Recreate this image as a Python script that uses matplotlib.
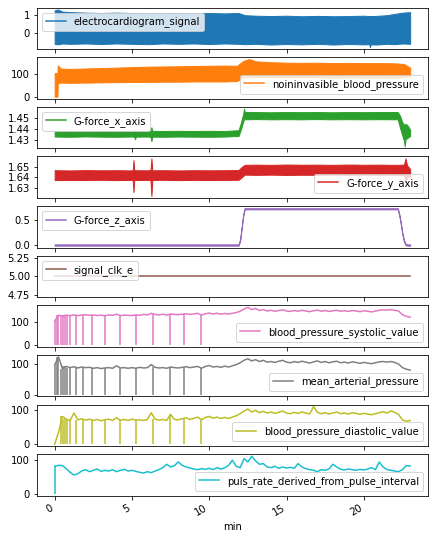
import numpy as np
import matplotlib
matplotlib.use("Agg")
import matplotlib.pyplot as plt

# time axis in minutes; band series are given as lower / upper envelope
ecg_t = [0.0, 0.2, 0.5, 1, 2, 3, 4, 5, 6, 7, 8, 9, 10, 11, 11.9, 12.3, 13, 14, 15, 16,
         17, 18, 19, 20, 20.35, 20.4, 20.45, 20.8, 21.5, 22, 22.5, 23.0]
ecg_lo = [-0.62, -0.65, -0.60, -0.62, -0.60, -0.63, -0.60, -0.62, -0.64, -0.60, -0.62, -0.60,
          -0.63, -0.60, -0.62, -0.64, -0.62, -0.66, -0.63, -0.65, -0.62, -0.66, -0.63, -0.65,
          -0.64, -0.80, -0.65, -0.66, -0.62, -0.64, -0.60, -0.62]
ecg_hi = [1.25, 1.30, 1.18, 1.15, 1.12, 1.10, 1.12, 1.10, 1.09, 1.10, 1.10, 1.08, 1.10, 1.08,
          1.10, 0.98, 0.95, 0.93, 0.95, 0.92, 0.94, 0.92, 0.93, 0.95, 0.93, 0.93, 0.93, 0.94,
          0.98, 1.05, 1.12, 1.15]

nibp_t = [0.0, 0.18, 0.2, 0.4, 1, 2, 3, 4, 5, 6, 7, 8, 9, 10, 11, 11.8, 12.2, 12.6, 13, 14,
          15, 16, 17, 18, 19, 20, 21, 22, 22.6, 23.0]
nibp_lo = [0, 0, 60, 63, 62, 63, 64, 65, 66, 66, 67, 67, 68, 68, 68, 70, 86, 90, 88, 88,
           87, 88, 87, 86, 87, 86, 86, 85, 88, 92]
nibp_hi = [105, 105, 140, 126, 124, 126, 128, 130, 132, 134, 135, 136, 137, 138, 139, 138,
           160, 168, 158, 154, 152, 151, 152, 150, 151, 150, 150, 149, 146, 130]

gx_t = [0.0, 1, 2, 3, 4, 5, 5.15, 5.2, 5.25, 6, 6.2, 6.26, 6.32, 7, 8, 9, 10, 11, 11.9,
        12.05, 12.2, 12.25, 12.3, 13, 14, 15, 16, 17, 18, 19, 20, 21, 22.2, 22.35, 22.5,
        22.6, 22.65, 22.7, 22.8, 22.9, 23.0]
gx_lo = [1.4335, 1.4333, 1.4336, 1.4334, 1.4333, 1.4335, 1.4333, 1.4310, 1.4334, 1.4335,
         1.4333, 1.4295, 1.4334, 1.4333, 1.4335, 1.4334, 1.4333, 1.4335, 1.4340,
         1.4400, 1.4470, 1.4490, 1.4490, 1.4492, 1.4490, 1.4491, 1.4490, 1.4492, 1.4490,
         1.4491, 1.4490, 1.4491, 1.4490, 1.4410, 1.4340,
         1.4300, 1.4247, 1.4310, 1.4320, 1.4330, 1.4340]
gx_hi = [1.4385, 1.4386, 1.4384, 1.4386, 1.4385, 1.4386, 1.4385, 1.4395, 1.4385, 1.4386,
         1.4385, 1.4418, 1.4386, 1.4385, 1.4386, 1.4385, 1.4386, 1.4385, 1.4392,
         1.4460, 1.4540, 1.4585, 1.4555, 1.4555, 1.4553, 1.4555, 1.4554, 1.4555, 1.4553,
         1.4555, 1.4554, 1.4555, 1.4555, 1.4520, 1.4460,
         1.4445, 1.4430, 1.4450, 1.4440, 1.4420, 1.4395]

gy_t = [0.0, 1, 2, 3, 4, 5, 5.05, 5.1, 5.15, 6, 6.2, 6.26, 6.32, 7, 8, 9, 10, 11, 11.9,
        12.1, 12.3, 13, 14, 15, 16, 17, 18, 19, 20, 21, 22, 22.6, 22.7, 22.8, 23.0]
gy_lo = [1.6372, 1.6374, 1.6373, 1.6375, 1.6372, 1.6374, 1.6373, 1.6256, 1.6373, 1.6374,
         1.6372, 1.6218, 1.6373, 1.6375, 1.6372, 1.6374, 1.6373, 1.6374, 1.6375,
         1.6400, 1.6425, 1.6423, 1.6425, 1.6422, 1.6424, 1.6423, 1.6425, 1.6422, 1.6424,
         1.6423, 1.6424, 1.6420, 1.6350, 1.6400, 1.6405]
gy_hi = [1.6468, 1.6466, 1.6469, 1.6467, 1.6468, 1.6466, 1.6468, 1.6566, 1.6468, 1.6467,
         1.6468, 1.6582, 1.6467, 1.6468, 1.6466, 1.6468, 1.6467, 1.6468, 1.6470,
         1.6500, 1.6520, 1.6522, 1.6520, 1.6523, 1.6521, 1.6522, 1.6520, 1.6523, 1.6521,
         1.6522, 1.6520, 1.6522, 1.6583, 1.6515, 1.6480]

gz_t = [0.0, 11.9, 12.0, 12.1, 12.2, 12.3, 12.4, 22.2, 22.3, 22.4, 22.5, 22.6, 22.7, 22.8, 23.0]
gz_lo = [-0.013, -0.013, 0.08, 0.33, 0.58, 0.718, 0.715, 0.715, 0.58, 0.40, 0.20, 0.06, 0.0,
         -0.013, -0.013]
gz_hi = [0.012, 0.012, 0.12, 0.37, 0.62, 0.741, 0.737, 0.737, 0.62, 0.44, 0.24, 0.10, 0.03,
         0.012, 0.012]

clk_t = [0.0, 23.0]
clk_v = [5, 5]

# blood pressure / pulse: one value every 15 s, one row per minute
t_bp = np.arange(93) * 0.25
systolic = [103, 128, 126, 129,  127, 130, 127, 129,  131, 128, 130, 127,  129, 126, 130, 128,
            133, 127, 129, 128,  127, 130, 128, 132,  130, 137, 132, 130,  133, 129, 134, 132,
            131, 133, 135, 132,  134, 137, 129, 135,  138, 134, 137, 133,  136, 134, 137, 140,
            146, 156, 163, 153,  158, 149, 153, 147,  150, 146, 149, 152,  147, 145, 149, 146,
            150, 147, 144, 148,  151, 146, 149, 145,  148, 150, 146, 148,  145, 149, 147, 144,
            148, 146, 143, 147,  150, 152, 151, 153,  150, 147, 131, 124,  120]
mean_ap = [97, 123, 85, 92,  88, 91, 87, 90,  88, 89, 86, 88,  85, 87, 88, 86,
           94, 87, 88, 86,  88, 86, 89, 87,  88, 98, 89, 87,  88, 86, 90, 88,
           87, 89, 91, 88,  90, 92, 86, 92,  95, 90, 92, 89,  93, 90, 94, 98,
           104, 112, 117, 110,  114, 108, 112, 106,  108, 105, 109, 112,  106, 104, 108, 105,
           109, 106, 103, 107,  110, 105, 108, 104,  107, 109, 104, 106,  103, 107, 105, 102,
           105, 103, 101, 104,  107, 108, 106, 108,  105, 100, 88, 83,  80]
diastolic = [0, 35, 82, 74,  70, 92, 72, 75,  71, 74, 70, 73,  69, 72, 74, 70,
             78, 71, 73, 70,  74, 71, 72, 70,  73, 93, 74, 71,  73, 70, 88, 73,
             72, 75, 78, 73,  76, 80, 72, 79,  82, 77, 80, 76,  79, 76, 80, 84,
             90, 98, 104, 95,  100, 93, 97, 92,  95, 91, 94, 98,  92, 90, 94, 91,
             95, 92, 89, 111,  94, 90, 93, 89,  92, 95, 90, 92,  89, 93, 91, 88,
             91, 89, 87, 90,  93, 96, 92, 98,  94, 88, 72, 68,  70]
pulse = [82, 85, 84, 75,  64, 56, 60, 68,  72, 66, 70, 74,  67, 70, 68, 72,
         66, 70, 73, 68,  70, 67, 64, 62,  66, 63, 68, 72,  78, 88, 80, 84,
         95, 85, 80, 77,  74, 72, 75, 73,  76, 72, 78, 74,  77, 85, 100, 82,
         78, 105, 95, 112,  98, 88, 90, 80,  78, 82, 76, 80,  77, 79, 76, 90,
         80, 75, 72, 70,  66, 72, 70, 74,  88, 80, 73, 71,  74, 72, 70, 73,
         71, 74, 78, 72,  95, 80, 72, 70,  68, 66, 72, 84,  83]

# short drops to zero in the cuff readings
drops = [0.0, 0.13, 0.24, 0.39, 0.54, 0.67, 0.82, 0.99, 1.36, 1.85, 2.44, 3.25, 4.2,
         5.24, 6.38, 7.44, 8.36, 9.44]
drops_dia = [0.42, 0.54, 0.67, 0.82, 0.99, 1.36, 1.85, 2.44, 3.25, 4.2, 5.24, 6.38,
             7.44, 8.36, 9.44]
drops_pulse = [0.0]

yticks = [[0, 1], [0, 100], [1.43, 1.44, 1.45], [1.63, 1.64, 1.65], [0.0, 0.5],
          [4.75, 5.00, 5.25], [0, 100], [0, 100], [0, 100], [0, 100]]


def band(ax, t, lo, hi, color, label, loc):
    ax.fill_between(t, lo, hi, color=color, lw=1.0)
    ax.plot([], [], color=color, lw=1.5, label=label)
    ax.legend(loc=loc)


def cuff(ax, vals, dr, color, label, loc):
    vals = np.asarray(vals, dtype=float)
    ax.plot(t_bp, vals, color=color, lw=1.5, label=label)
    idx = np.searchsorted(t_bp, dr)
    ax.vlines(dr, 0, vals[idx], color=color, lw=1.5)
    ax.legend(loc=loc)


fig, axes = plt.subplots(10, 1, sharex=True, figsize=(434 / 72, 540 / 72), dpi=72)
fig.subplots_adjust(left=0.085, right=0.986, top=0.986, bottom=0.082, hspace=0.2)

band(axes[0], ecg_t, ecg_lo, ecg_hi, "C0", "electrocardiogram_signal", "upper left")
band(axes[1], nibp_t, nibp_lo, nibp_hi, "C1", "noininvasible_blood_pressure", "lower right")
band(axes[2], gx_t, gx_lo, gx_hi, "C2", "G-force_x_axis", "upper left")
band(axes[3], gy_t, gy_lo, gy_hi, "C3", "G-force_y_axis", "lower right")
band(axes[4], gz_t, gz_lo, gz_hi, "C4", "G-force_z_axis", "upper left")

axes[5].plot(clk_t, clk_v, color="C5", lw=1.5, label="signal_clk_e")
axes[5].legend(loc="upper left")

cuff(axes[6], systolic, drops, "C6", "blood_pressure_systolic_value", "lower right")
cuff(axes[7], mean_ap, drops, "C7", "mean_arterial_pressure", "lower right")
cuff(axes[8], diastolic, drops_dia, "C8", "blood_pressure_diastolic_value", "lower right")
cuff(axes[9], pulse, drops_pulse, "C9", "puls_rate_derived_from_pulse_interval", "lower right")

for ax, yt in zip(axes, yticks):
    ax.set_yticks(yt)

axes[-1].set_xticks([0, 5, 10, 15, 20])
plt.setp(axes[-1].get_xticklabels(), rotation=30, ha="right")
axes[-1].set_xlabel("min")

fig.savefig("out.png", dpi=72)
